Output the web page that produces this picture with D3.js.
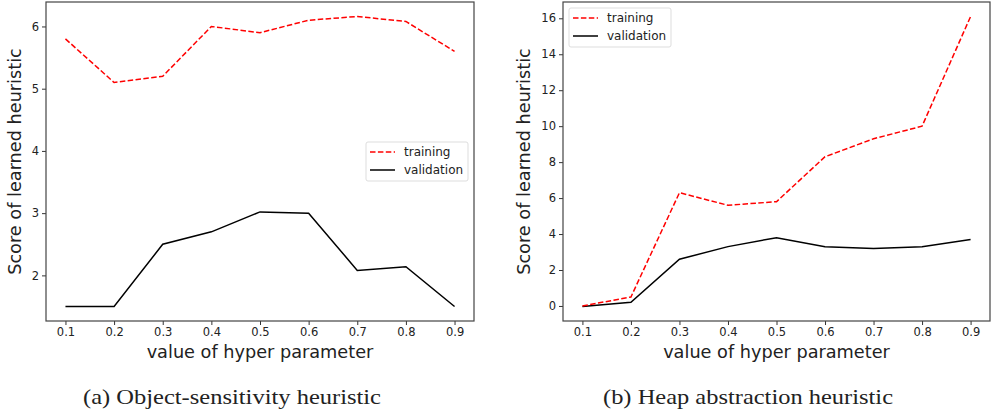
<!DOCTYPE html>
<html>
<head>
<meta charset="utf-8">
<script src="https://cdn.jsdelivr.net/npm/d3@7"></script>
<style>
  body { margin: 0; background: #fff; }
  svg text { font-family: "DejaVu Sans", sans-serif; fill: #222; }
  .caption { font-family: "Liberation Serif", "DejaVu Serif", serif; }
</style>
</head>
<body>
<svg id="chart" width="993" height="415"></svg>
<script>
// hyper parameter values (shared x)
var hyper = [0.1, 0.2, 0.3, 0.4, 0.5, 0.6, 0.7, 0.8, 0.9];
var xTicks = [0.1, 0.2, 0.3, 0.4, 0.5, 0.6, 0.7, 0.8, 0.9];

// (a) object-sensitivity
var objTraining   = [5.8, 5.1, 5.2, 6.0, 5.9, 6.1, 6.16, 6.08, 5.6];
var objValidation = [1.5, 1.5, 2.5, 2.7, 3.02, 3.0, 2.08, 2.14, 1.5];
var objYTicks = [2, 3, 4, 5, 6];

// (b) heap abstraction
var heapTraining   = [0.0, 0.5, 6.3, 5.6, 5.8, 8.3, 9.3, 10.0, 16.1];
var heapValidation = [-0.03, 0.2, 2.6, 3.3, 3.8, 3.3, 3.2, 3.3, 3.7];
var heapYTicks = [0, 2, 4, 6, 8, 10, 12, 14, 16];

var seriesNames = ["training", "validation"];
var captions = ["(a) Object-sensitivity heuristic", "(b) Heap abstraction heuristic"];

var svg = d3.select("#chart");

function drawPanel(p) {
  var x = d3.scaleLinear().domain([0.06, 0.94]).range([p.left, p.right]);
  var all = p.train.concat(p.valid);
  var lo = d3.min(all), hi = d3.max(all), pad = (hi - lo) * 0.05;
  var y = d3.scaleLinear().domain([lo - pad, hi + pad]).range([p.bottom, p.top]);

  var g = svg.append("g");

  var line = d3.line()
    .x(function(d, i) { return x(hyper[i]); })
    .y(function(d) { return y(d); });

  g.append("path")
    .attr("d", line(p.valid))
    .attr("fill", "none")
    .attr("stroke", "#000")
    .attr("stroke-width", 1.5);

  g.append("path")
    .attr("d", line(p.train))
    .attr("fill", "none")
    .attr("stroke", "#ff0000")
    .attr("stroke-width", 1.5)
    .attr("stroke-dasharray", "5.5,2.4");

  var xAxis = d3.axisBottom(x).tickValues(xTicks).tickFormat(d3.format(".1f")).tickSize(4).tickPadding(3);
  var gx = g.append("g").attr("transform", "translate(0," + p.bottom + ")").call(xAxis);
  var yAxis = d3.axisLeft(y).tickValues(p.yTicks).tickFormat(d3.format("d")).tickSize(4).tickPadding(3);
  var gy = g.append("g").attr("transform", "translate(" + p.left + ",0)").call(yAxis);
  [gx, gy].forEach(function(a) {
    a.select(".domain").remove();
    a.selectAll("line").attr("stroke", "#333");
    a.selectAll("text").style("font-size", "11.5px").style("font-family", "DejaVu Sans").attr("fill", "#222");
  });

  g.append("rect")
    .attr("x", p.left).attr("y", p.top)
    .attr("width", p.right - p.left).attr("height", p.bottom - p.top)
    .attr("fill", "none").attr("stroke", "#444").attr("stroke-width", 1.2);

  g.append("text")
    .attr("x", (p.left + p.right) / 2).attr("y", 358)
    .attr("text-anchor", "middle")
    .style("font-size", "17.7px")
    .text("value of hyper parameter");

  g.append("text")
    .attr("transform", "translate(" + p.ylabX + "," + ((p.top + p.bottom) / 2) + ") rotate(-90)")
    .attr("text-anchor", "middle")
    .attr("dy", "0.35em")
    .style("font-size", "17.7px")
    .text("Score of learned heuristic");

  // legend
  var lg = g.append("g").attr("transform", "translate(" + p.legX + "," + p.legY + ")");
  lg.append("rect")
    .attr("width", 102).attr("height", 39).attr("rx", 2)
    .attr("fill", "#fff").attr("fill-opacity", 0.8)
    .attr("stroke", "#ddd").attr("stroke-width", 1);
  seriesNames.forEach(function(name, i) {
    var yy = 10 + i * 18;
    lg.append("line")
      .attr("x1", 4).attr("x2", 29).attr("y1", yy).attr("y2", yy)
      .attr("stroke", i === 0 ? "#ff0000" : "#000")
      .attr("stroke-width", 1.5)
      .attr("stroke-dasharray", i === 0 ? "5.5,2.4" : null);
    lg.append("text")
      .attr("x", 38).attr("y", yy).attr("dy", "0.35em")
      .style("font-size", "12px")
      .text(name);
  });

  svg.append("text")
    .attr("class", "caption")
    .attr("x", p.capX).attr("y", 404)
    .attr("text-anchor", "middle")
    .attr("textLength", p.capW)
    .attr("lengthAdjust", "spacingAndGlyphs")
    .style("font-size", "22px")
    .text(p.caption);
}

drawPanel({
  left: 46, right: 474, top: 2, bottom: 321,
  train: objTraining, valid: objValidation, yTicks: objYTicks,
  ylabX: 15, legX: 366, legY: 142, capX: 232, capW: 298, caption: captions[0]
});

drawPanel({
  left: 563, right: 990, top: 2, bottom: 321,
  train: heapTraining, valid: heapValidation, yTicks: heapYTicks,
  ylabX: 524, legX: 569, legY: 8, capX: 748, capW: 290, caption: captions[1]
});
</script>
</body>
</html>
